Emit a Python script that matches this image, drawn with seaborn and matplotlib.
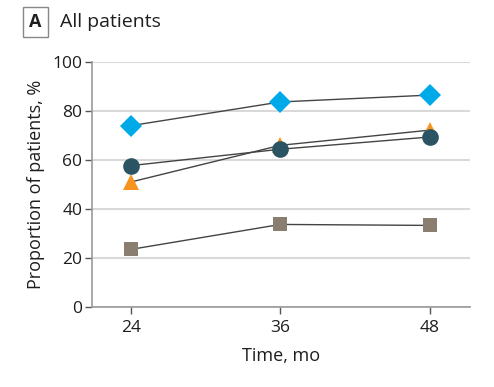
import matplotlib
matplotlib.use("Agg")
import matplotlib.pyplot as plt
import seaborn as sns
import pandas as pd

months = [24, 36, 48]
diamond = [74, 83.7, 86.5]
triangle = [51, 66, 72.2]
circle = [57.7, 64.4, 69.4]
square = [23.5, 33.7, 33.3]
y_ticks = [0, 20, 40, 60, 80, 100]

series = [
    ("diamond", diamond, "D", "#00A9E8", 11),
    ("triangle", triangle, "^", "#F7941D", 12),
    ("circle", circle, "o", "#2A5364", 12),
    ("square", square, "s", "#8A7E70", 10),
]

sns.set_theme(style="white")
plt.rcParams['font.family'] = ['Open Sans', 'DejaVu Sans']

fig = plt.figure(figsize=(4.94, 3.87), dpi=100)
ax = fig.add_axes([92/494, 1 - 307/387, (470-92)/494, (307-62)/387])

for name, vals, mk, col, ms in series:
    df = pd.DataFrame({"x": months, "y": vals})
    sns.lineplot(data=df, x="x", y="y", ax=ax, color="#444444", lw=1.0, zorder=2)
    ax.plot(months, vals, linestyle="none", marker=mk, color=col, ms=ms,
            markeredgewidth=0, zorder=3)

ax.set_xlim(20.9, 51.2)
ax.set_ylim(0, 100)
ax.set_xticks(months)
ax.set_yticks(y_ticks)
ax.yaxis.grid(True, color="#D9D9D9", lw=1.5)
ax.set_axisbelow(True)
for s in ["top", "right"]:
    ax.spines[s].set_visible(False)
for s in ["left", "bottom"]:
    ax.spines[s].set_color("#999999")
    ax.spines[s].set_linewidth(1.2)
ax.tick_params(axis="both", which="both", direction="out", length=5, width=1,
               color="#555555", labelsize=12.5, labelcolor="#1E1E1E")
ax.tick_params(axis="x", pad=4)
ax.tick_params(axis="y", pad=2, left=True)
ax.tick_params(axis="x", bottom=True)
ax.set_xlabel("Time, mo", fontsize=13, color="#1E1E1E", labelpad=8)
ax.set_ylabel("Proportion of patients, %", fontsize=13, color="#1E1E1E", labelpad=5)

fig.text(35.5/494, 1 - 22/387, "A", fontsize=13, fontweight="bold", ha="center", va="center",
         color="#1E1E1E",
         bbox=dict(boxstyle="square,pad=0.33", fc="white", ec="#888888", lw=1))
fig.text(60/494, 1 - 22/387, "All patients", fontsize=14, ha="left", va="center",
         color="#1E1E1E")

fig.savefig("out.png", dpi=100)
